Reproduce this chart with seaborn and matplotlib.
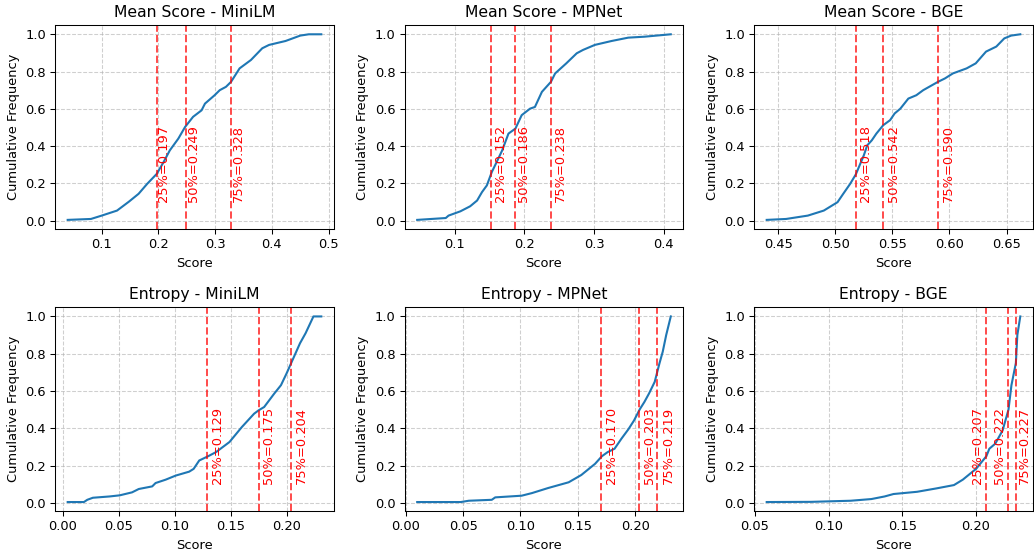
import matplotlib
matplotlib.use("Agg")
import matplotlib.pyplot as plt
import seaborn as sns

# ---------------- data ----------------
titles = ["Mean Score - MiniLM", "Mean Score - MPNet", "Mean Score - BGE",
          "Entropy - MiniLM", "Entropy - MPNet", "Entropy - BGE"]
percent_levels = [25, 50, 75]

mean_minilm_q = [0.197, 0.249, 0.328]
mean_mpnet_q = [0.152, 0.186, 0.238]
mean_bge_q = [0.518, 0.542, 0.590]
ent_minilm_q = [0.129, 0.175, 0.204]
ent_mpnet_q = [0.170, 0.203, 0.219]
ent_bge_q = [0.207, 0.222, 0.227]

mean_minilm_score = [0.040, 0.081, 0.100, 0.127, 0.148, 0.165, 0.180, 0.197, 0.209, 0.220,
                     0.235, 0.247, 0.261, 0.276, 0.282, 0.299, 0.308, 0.319, 0.328, 0.343,
                     0.363, 0.383, 0.395, 0.424, 0.450, 0.465, 0.487]
mean_minilm_cum = [0.004, 0.009, 0.027, 0.054, 0.102, 0.144, 0.197, 0.251, 0.314, 0.377,
                   0.440, 0.503, 0.557, 0.592, 0.628, 0.673, 0.700, 0.718, 0.745, 0.817,
                   0.862, 0.925, 0.943, 0.964, 0.993, 1.000, 1.000]

mean_mpnet_score = [0.046, 0.087, 0.091, 0.108, 0.122, 0.132, 0.139, 0.146, 0.153, 0.160,
                    0.168, 0.177, 0.187, 0.196, 0.208, 0.215, 0.225, 0.238, 0.244, 0.260,
                    0.275, 0.284, 0.301, 0.325, 0.349, 0.372, 0.410]
mean_mpnet_cum = [0.004, 0.014, 0.027, 0.050, 0.077, 0.108, 0.153, 0.189, 0.260, 0.314,
                  0.377, 0.467, 0.494, 0.566, 0.601, 0.610, 0.691, 0.745, 0.790, 0.844,
                  0.898, 0.916, 0.943, 0.964, 0.982, 0.987, 1.000]

mean_bge_score = [0.440, 0.457, 0.476, 0.490, 0.502, 0.507, 0.513, 0.518, 0.525, 0.528,
                  0.532, 0.536, 0.542, 0.548, 0.552, 0.557, 0.564, 0.571, 0.577, 0.590,
                  0.596, 0.603, 0.615, 0.623, 0.632, 0.641, 0.648, 0.654, 0.662]
mean_bge_cum = [0.004, 0.009, 0.027, 0.054, 0.099, 0.144, 0.197, 0.248, 0.350, 0.404,
                0.431, 0.467, 0.512, 0.539, 0.575, 0.601, 0.655, 0.673, 0.700, 0.745,
                0.763, 0.790, 0.817, 0.844, 0.907, 0.934, 0.978, 0.993, 1.000]

ent_minilm_score = [0.0045, 0.019, 0.022, 0.027, 0.042, 0.051, 0.062, 0.068, 0.080, 0.083,
                    0.092, 0.101, 0.113, 0.117, 0.122, 0.130, 0.137, 0.149, 0.160, 0.171,
                    0.175, 0.180, 0.189, 0.195, 0.200, 0.204, 0.208, 0.212, 0.217, 0.224,
                    0.231]
ent_minilm_cum = [0.004, 0.004, 0.016, 0.027, 0.034, 0.040, 0.056, 0.074, 0.088, 0.106,
                  0.124, 0.146, 0.167, 0.182, 0.227, 0.250, 0.272, 0.326, 0.406, 0.478,
                  0.496, 0.514, 0.586, 0.631, 0.694, 0.748, 0.802, 0.856, 0.910, 1.000,
                  1.000]

ent_mpnet_score = [0.010, 0.048, 0.055, 0.075, 0.078, 0.101, 0.110, 0.124, 0.142, 0.153,
                   0.165, 0.171, 0.176, 0.182, 0.188, 0.194, 0.199, 0.204, 0.208, 0.212,
                   0.217, 0.221, 0.224, 0.227, 0.231]
ent_mpnet_cum = [0.004, 0.004, 0.011, 0.016, 0.029, 0.038, 0.052, 0.079, 0.110, 0.149,
                 0.209, 0.250, 0.272, 0.290, 0.344, 0.394, 0.442, 0.502, 0.541, 0.586,
                 0.649, 0.745, 0.811, 0.900, 1.000]

ent_bge_score = [0.058, 0.088, 0.115, 0.129, 0.138, 0.144, 0.160, 0.173, 0.185, 0.191,
                 0.200, 0.207, 0.209, 0.213, 0.218, 0.222, 0.224, 0.227, 0.228, 0.230]
ent_bge_cum = [0.004, 0.005, 0.011, 0.020, 0.034, 0.047, 0.059, 0.077, 0.095, 0.124,
               0.182, 0.250, 0.290, 0.317, 0.388, 0.500, 0.631, 0.750, 0.900, 1.000]

scores = [mean_minilm_score, mean_mpnet_score, mean_bge_score,
          ent_minilm_score, ent_mpnet_score, ent_bge_score]
cums = [mean_minilm_cum, mean_mpnet_cum, mean_bge_cum,
        ent_minilm_cum, ent_mpnet_cum, ent_bge_cum]
quartiles = [mean_minilm_q, mean_mpnet_q, mean_bge_q,
             ent_minilm_q, ent_mpnet_q, ent_bge_q]

# ---------------- layout / style ----------------
DPI = 94
# horizontal offsets (pixels) of the label centres from their line
label_offsets_px = [[7, 7, 7], [9, 9, 9], [10, 10, 10],
                    [10, 10, 10], [11, 11, 11], [-9, -9, 9]]

fig, axes = plt.subplots(2, 3, figsize=(1034 / DPI, 552 / DPI), dpi=DPI)
fig.subplots_adjust(left=0.0532, right=0.999, top=0.9547, bottom=0.0737,
                    wspace=0.253, hspace=0.382)

for i, ax in enumerate(axes.flat):
    sns.lineplot(x=scores[i], y=cums[i], ax=ax, color="#1f77b4", linewidth=1.6,
                 estimator=None, sort=False)
    for j, (p, q) in enumerate(zip(percent_levels, quartiles[i])):
        ax.axvline(q, color="red", linestyle="--", alpha=0.7, linewidth=1.5)
        ax.annotate(f"{p}%={q:.3f}", xy=(q, 0.1), xycoords="data",
                    xytext=(label_offsets_px[i][j] * 72 / DPI, 0),
                    textcoords="offset points", rotation=90, color="red",
                    ha="center", va="bottom", fontsize=10)
    ax.set_title(titles[i], fontsize=12)
    ax.set_xlabel("Score")
    ax.set_ylabel("Cumulative Frequency")
    ax.set_yticks([0.0, 0.2, 0.4, 0.6, 0.8, 1.0])
    ax.grid(True, linestyle="--", alpha=0.6)

fig.savefig("out.png", dpi=DPI)
